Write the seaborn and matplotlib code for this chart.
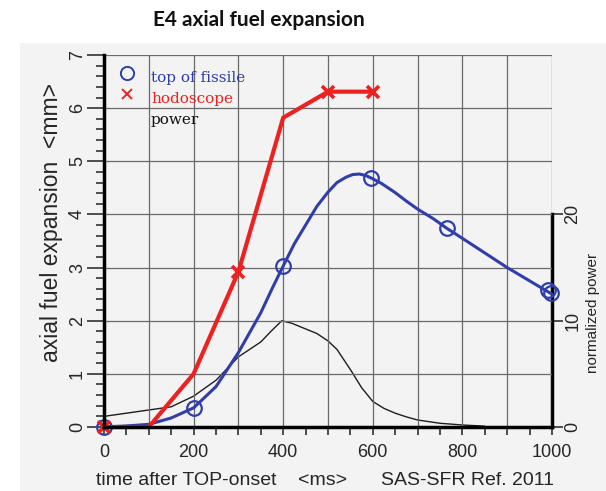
import matplotlib
matplotlib.use("Agg")
import matplotlib.pyplot as plt
import seaborn as sns
import pandas as pd
from matplotlib.ticker import MultipleLocator, FuncFormatter
from matplotlib.patches import Rectangle

# top of fissile: calculated curve and marked points (mm)
fissile_t = [0, 50, 100, 150, 200, 250, 300, 350, 375, 400, 425, 450, 475, 500, 520, 540, 555,
             570, 585, 600, 620, 650, 675, 700, 735, 765, 800, 840, 900, 950, 1000]
fissile_mm = [0, 0.02, 0.05, 0.17, 0.36, 0.76, 1.4, 2.15, 2.6, 3.03, 3.45, 3.8, 4.15, 4.42, 4.6,
              4.7, 4.75, 4.76, 4.73, 4.67, 4.58, 4.41, 4.25, 4.1, 3.92, 3.74, 3.55, 3.33, 3.0,
              2.75, 2.5]
fissile_pt_t = [0, 200, 400, 595, 765, 992, 998]
fissile_pt_mm = [0, 0.36, 3.03, 4.68, 3.74, 2.58, 2.53]

# hodoscope measurement (mm)
hodo_t = [0, 100, 200, 300, 400, 500, 600]
hodo_mm = [0, 0, 1.0, 2.92, 5.82, 6.31, 6.31]
hodo_pt_t = [0, 300, 500, 600]
hodo_pt_mm = [0, 2.92, 6.31, 6.31]

# normalized power (right axis)
power_t = [0, 50, 100, 150, 200, 250, 300, 350, 375, 397, 420, 440, 475, 500, 520, 550, 575,
           600, 625, 650, 675, 700, 750, 800, 850]
power_val = [1.0, 1.3, 1.6, 1.9, 2.9, 4.4, 6.6, 8.0, 9.1, 10.0, 9.75, 9.4, 8.8, 8.1, 7.3, 5.4,
             3.7, 2.4, 1.75, 1.3, 0.95, 0.66, 0.35, 0.19, 0.08]

x_ticks_labeled = [0, 200, 400, 600, 800, 1000]

BLUE = "#2f3eaa"
RED = "#ef2020"

sns.set_theme(style="white")
plt.rcParams["font.family"] = ["Liberation Sans", "DejaVu Sans"]

fissile_df = pd.DataFrame({"t": fissile_t, "mm": fissile_mm})
hodo_df = pd.DataFrame({"t": hodo_t, "mm": hodo_mm})
power_df = pd.DataFrame({"t": power_t, "p": power_val})

fig = plt.figure(figsize=(6.06, 4.91), dpi=100)
fig.patch.set_facecolor("white")
fig.patches.append(Rectangle((20 / 606, 0), 1, 448 / 491, transform=fig.transFigure,
                             facecolor="#f3f3f3", edgecolor="none", zorder=-10))

ax = fig.add_axes([104 / 606, 64 / 491, 448 / 606, 372 / 491])
ax2 = ax.twinx()
ax.set_zorder(ax2.get_zorder() + 1)
ax.patch.set_visible(False)
ax2.patch.set_facecolor("white")

# power on the secondary axis
sns.lineplot(data=power_df, x="t", y="p", ax=ax2, color="#1e1e1e", lw=1.0,
             sort=False, estimator=None)
ax2.set_ylim(0, 35)

# expansion curves
sns.lineplot(data=fissile_df, x="t", y="mm", ax=ax, color=BLUE, lw=2.2,
             sort=False, estimator=None, clip_on=False)
ax.plot(fissile_pt_t, fissile_pt_mm, ls="none", marker="o", mfc="none", mec=BLUE,
        ms=10.5, mew=1.6, clip_on=False)
sns.lineplot(data=hodo_df, x="t", y="mm", ax=ax, color=RED, lw=3.0,
             sort=False, estimator=None, clip_on=False)
ax.plot(hodo_pt_t, hodo_pt_mm, ls="none", marker="x", color=RED, ms=9, mew=2.6,
        clip_on=False)

ax.set_xlim(0, 1000)
ax.set_ylim(0, 7)

# axes, ticks and grid
ax.xaxis.set_major_locator(MultipleLocator(100))
ax.xaxis.set_minor_locator(MultipleLocator(50))
ax.xaxis.set_major_formatter(FuncFormatter(
    lambda v, p: f"{int(round(v))}" if int(round(v)) in x_ticks_labeled else ""))
ax.yaxis.set_major_locator(MultipleLocator(1))
ax.yaxis.set_minor_locator(MultipleLocator(0.2))
ax.tick_params(axis="x", which="both", direction="out", length=6, width=1.1,
               color="#222222", labelsize=13, pad=6, bottom=True)
ax.tick_params(axis="y", which="major", direction="out", length=12, width=1.1,
               color="#222222", labelsize=13, labelrotation=90, pad=1, left=True)
ax.tick_params(axis="y", which="minor", direction="out", length=6, width=1.1,
               color="#222222", left=True)
for lab in ax.get_yticklabels():
    lab.set_va("center")
ax.grid(True, which="major", color="#6a6a6a", lw=0.9)
ax.set_axisbelow(True)

for side in ("top", "right"):
    ax.spines[side].set_visible(False)
for side in ("left", "bottom"):
    ax.spines[side].set_linewidth(2.5)
    ax.spines[side].set_color("black")

for side in ("top", "left", "bottom"):
    ax2.spines[side].set_visible(False)
ax2.spines["right"].set_linewidth(2.5)
ax2.spines["right"].set_color("black")
ax2.spines["right"].set_bounds(0, 20)
ax2.set_yticks([0, 10, 20])
ax2.tick_params(axis="y", which="major", direction="out", length=8, width=1.1,
                color="#222222", labelsize=13, labelrotation=90, pad=1, right=True)
for lab in ax2.get_yticklabels():
    lab.set_va("center")

ax.set_xlabel("")
ax.set_ylabel("axial fuel expansion  <mm>", fontsize=16.5)
ax.yaxis.set_label_coords(-0.092, 0.55)
ax2.set_ylabel("normalized power", fontsize=11, rotation=90)
ax2.yaxis.set_label_coords(1.076, 0.306)
ax2.yaxis.label.set_va("top")

fig.text(96 / 606, 0.021, "time after TOP-onset", fontsize=14, ha="left", va="center")
fig.text(298 / 606, 0.021, "<ms>", fontsize=14, ha="left", va="center")
fig.text(381 / 606, 0.021, "SAS-SFR Ref. 2011", fontsize=14, ha="left", va="center")

# legend block
ax.plot([0.0513], [0.952], transform=ax.transAxes, marker="o", mfc="none", mec=BLUE,
        ms=9.5, mew=1.4, ls="none", clip_on=False)
ax.plot([0.0513], [0.895], transform=ax.transAxes, marker="x", color=RED,
        ms=7, mew=1.4, ls="none", clip_on=False)
ax.text(0.105, 0.938, "top of fissile", transform=ax.transAxes, color=BLUE,
        fontsize=11, family="DejaVu Serif", va="center", ha="left")
ax.text(0.105, 0.882, "hodoscope", transform=ax.transAxes, color=RED,
        fontsize=11, family="DejaVu Serif", va="center", ha="left")
ax.text(0.105, 0.825, "power", transform=ax.transAxes, color="#111111",
        fontsize=11, family="DejaVu Serif", va="center", ha="left")

fig.text(259 / 606, 1 - 20 / 491, "E4 axial fuel expansion", ha="center", va="center",
         fontsize=15, fontweight="bold", family=["Lato", "DejaVu Sans"], color="#111111")

fig.savefig("out.png", dpi=100)
